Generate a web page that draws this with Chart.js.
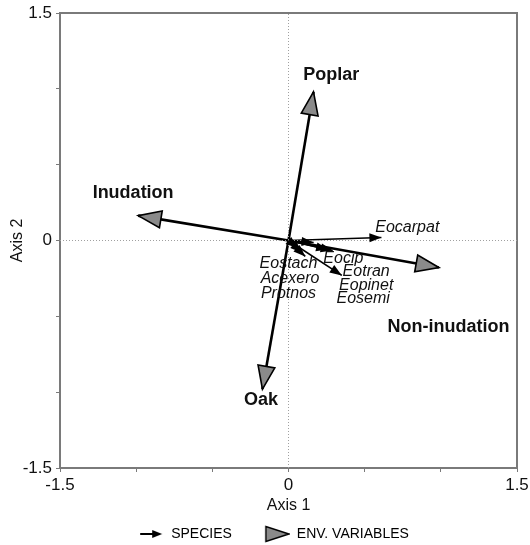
<!DOCTYPE html>
<html><head><meta charset="utf-8">
<script src="https://cdn.jsdelivr.net/npm/chart.js@4"></script>
<style>html,body{margin:0;padding:0;background:#fff}</style>
</head><body>
<canvas id="c" width="530" height="545"></canvas>
<script>
// ---- data ----
const envNames   = ['Poplar', 'Inudation', 'Non-inudation', 'Oak'];
const envX       = [0.164, -0.987, 0.987, -0.171];
const envY       = [0.980, 0.164, -0.178, -0.980];
const envLabelX  = [0.28, -1.02, 1.05, -0.18];
const envLabelY  = [1.09, 0.31, -0.57, -1.05];

const speciesNames  = ['Eocarpat', 'Eocip', 'Eotran', 'Eopinet', 'Eosemi', 'Eostach', 'Acexero', 'Protnos'];
const speciesX      = [0.61, 0.165, 0.35, 0.29, 0.26, 0.11, 0.09, 0.06];
const speciesY      = [0.02, -0.013, -0.23, -0.066, -0.06, -0.105, -0.08, -0.05];
const speciesLabelX = [0.78, 0.36, 0.51, 0.51, 0.49, 0.00, 0.01, 0.00];
const speciesLabelY = [0.085, -0.12, -0.205, -0.30, -0.38, -0.15, -0.25, -0.35];

const tickValues = [-1.5, -1, -0.5, 0, 0.5, 1, 1.5];
const tickLabels = ['-1.5', '', '', '0', '', '', '1.5'];
const axisMin = -1.5, axisMax = 1.5;

// ---- styling ----
const FONT = "'Liberation Sans', Arial, Helvetica, sans-serif";
Chart.defaults.font.family = FONT;
Chart.defaults.color = '#111';
const AXIS_GRAY = '#7a7a7a';
const CANVAS_H = 545, PLOT_BOTTOM = 468, PAD_BOTTOM = -6;

const datasets = [];
datasets.push({ data: [{x: axisMin, y: 0}, {x: axisMax, y: 0}], showLine: true, borderColor: '#a0a0a0', borderWidth: 1, borderDash: [1, 2], pointRadius: 0, kind: 'zero' });
datasets.push({ data: [{x: 0, y: axisMin}, {x: 0, y: axisMax}], showLine: true, borderColor: '#a0a0a0', borderWidth: 1, borderDash: [1, 2], pointRadius: 0, kind: 'zero' });
speciesNames.forEach((n, i) => datasets.push({
  label: n, data: [{x: 0, y: 0}, {x: speciesX[i], y: speciesY[i]}], showLine: true,
  borderColor: '#000', borderWidth: 1.6, pointRadius: 0, kind: 'sp',
  lab: {text: n, x: speciesLabelX[i], y: speciesLabelY[i]}
}));
envNames.forEach((n, i) => datasets.push({
  label: n, data: [{x: 0, y: 0}, {x: envX[i], y: envY[i]}], showLine: true,
  borderColor: '#000', borderWidth: 2.6, pointRadius: 0, kind: 'env',
  lab: {text: n, x: envLabelX[i], y: envLabelY[i]}
}));

function drawHead(ctx, tipX, tipY, ang, len, half, fill, stroke, lw) {
  ctx.save();
  ctx.translate(tipX, tipY);
  ctx.rotate(ang);
  ctx.beginPath();
  ctx.moveTo(0, 0);
  ctx.lineTo(-len, -half);
  ctx.lineTo(-len, half);
  ctx.closePath();
  ctx.fillStyle = fill;
  ctx.fill();
  if (stroke) { ctx.lineWidth = lw; ctx.strokeStyle = stroke; ctx.lineJoin = 'miter'; ctx.stroke(); }
  ctx.restore();
}

const arrowPlugin = {
  id: 'arrows',
  afterDatasetsDraw(chart) {
    const ctx = chart.ctx;
    const xs = chart.scales.x, ys = chart.scales.y;
    chart.data.datasets.forEach((ds, i) => {
      if (ds.kind !== 'sp' && ds.kind !== 'env') return;
      const meta = chart.getDatasetMeta(i);
      const p0 = meta.data[0], p1 = meta.data[1];
      const ang = Math.atan2(p1.y - p0.y, p1.x - p0.x);
      if (ds.kind === 'env') drawHead(ctx, p1.x, p1.y, ang, 23, 8.5, '#8a8a8a', '#000', 1.6);
      else drawHead(ctx, p1.x, p1.y, ang, 12, 4.5, '#000', null, 0);
    });
    chart.data.datasets.forEach((ds) => {
      if (!ds.lab) return;
      ctx.save();
      ctx.textAlign = 'center';
      ctx.textBaseline = 'middle';
      ctx.fillStyle = '#111';
      ctx.font = ds.kind === 'env' ? "bold 18px " + FONT : "italic 16px " + FONT;
      ctx.fillText(ds.lab.text, xs.getPixelForValue(ds.lab.x), ys.getPixelForValue(ds.lab.y));
      ctx.restore();
    });
  }
};

const ICON_W = 56;
function makeIcon(kind) {
  const cv = document.createElement('canvas');
  cv.width = ICON_W; cv.height = 18;
  const c = cv.getContext('2d');
  if (kind === 'sp') {
    c.strokeStyle = '#000'; c.lineWidth = 2;
    c.beginPath(); c.moveTo(32, 9); c.lineTo(46, 9); c.stroke();
    drawHead(c, 54, 9, 0, 10, 4, '#000', null, 0);
  } else {
    drawHead(c, 55, 9, 0, 23, 7.5, '#8a8a8a', '#000', 1.4);
  }
  return cv;
}
const iconSp = makeIcon('sp'), iconEnv = makeIcon('env');

function scaleBase(pos) {
  return {
    type: 'linear', position: pos, min: axisMin, max: axisMax,
    afterBuildTicks(axis) { axis.ticks = tickValues.map(v => ({value: v})); },
    border: { display: true, color: AXIS_GRAY, width: 2 },
  };
}

new Chart(document.getElementById('c'), {
  type: 'scatter',
  data: { datasets },
  options: {
    responsive: false,
    animation: false,
    devicePixelRatio: 1,
    layout: { padding: { left: 0, right: 13, top: 13, bottom: PAD_BOTTOM } },
    plugins: {
      tooltip: { enabled: false },
      legend: {
        position: 'bottom',
        labels: {
          usePointStyle: true,
          pointStyleWidth: ICON_W,
          font: { size: 14 },
          color: '#111',
          padding: 2,
          generateLabels() {
            return [
              { text: 'SPECIES', pointStyle: iconSp, fillStyle: '#000', strokeStyle: '#000', lineWidth: 0, hidden: false },
              { text: 'ENV. VARIABLES', pointStyle: iconEnv, fillStyle: '#888', strokeStyle: '#000', lineWidth: 0, hidden: false }
            ];
          }
        },
        onClick() {}
      }
    },
    scales: {
      x: Object.assign(scaleBase('bottom'), {
        grid: { display: true, drawOnChartArea: false, drawTicks: true, tickLength: 4, color: AXIS_GRAY, lineWidth: 1 },
        ticks: { autoSkip: false, maxRotation: 0, padding: 3, font: { size: 17 }, color: '#111', callback: (v, i) => tickLabels[i] },
        title: { display: true, text: 'Axis 1', font: { size: 16 }, color: '#111', padding: { top: 0, bottom: 10 } },
        afterFit(axis) {
          const lh = axis.chart.legend ? axis.chart.legend.height : 0;
          axis.height = CANVAS_H - PAD_BOTTOM - PLOT_BOTTOM - lh;
          axis.paddingLeft = 0;
          axis.paddingRight = 0;
        }
      }),
      y: Object.assign(scaleBase('left'), {
        grid: { display: true, drawOnChartArea: false, drawTicks: true, tickLength: 4, color: AXIS_GRAY, lineWidth: 1 },
        ticks: { autoSkip: false, padding: 4, font: { size: 17 }, color: '#111', callback: (v, i) => tickLabels[i] },
        title: { display: true, text: 'Axis 2', font: { size: 16 }, color: '#111', padding: { top: 8, bottom: 8 } },
        afterFit(axis) { axis.width = 60; axis.paddingTop = 0; axis.paddingBottom = 0; }
      }),
      x2: Object.assign(scaleBase('top'), {
        grid: { display: false }, ticks: { display: false },
        afterFit(axis) { axis.height = 0; axis.paddingLeft = 0; axis.paddingRight = 0; }
      }),
      y2: Object.assign(scaleBase('right'), {
        grid: { display: false }, ticks: { display: false },
        afterFit(axis) { axis.width = 0; axis.paddingTop = 0; axis.paddingBottom = 0; }
      })
    }
  },
  plugins: [arrowPlugin]
});
</script>
</body></html>
